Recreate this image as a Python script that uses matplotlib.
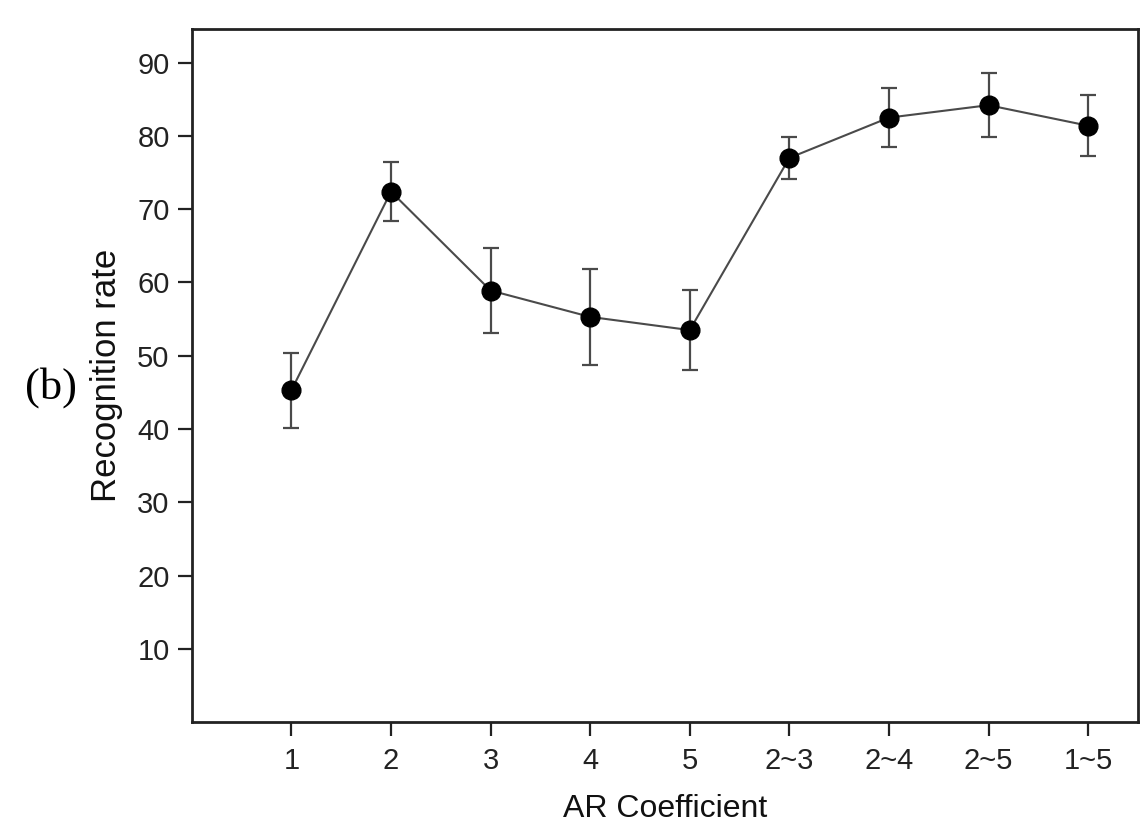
import numpy as np
import matplotlib.pyplot as plt

categories = ['1', '2', '3', '4', '5', '2~3', '2~4', '2~5', '1~5']
rate = [45.3, 72.4, 58.9, 55.3, 53.5, 77.0, 82.5, 84.2, 81.4]
err = [5.1, 4.0, 5.85, 6.55, 5.45, 2.9, 4.05, 4.35, 4.2]

plt.rcParams['font.family'] = ['Liberation Sans', 'DejaVu Sans']

fig = plt.figure(figsize=(11.42, 8.38), dpi=100)
ax = fig.add_axes([0.168, 0.1384, 0.8284, 0.827])

x = np.arange(len(categories))
ax.errorbar(x, rate, yerr=err, fmt='-o', color='#4a4a4a', lw=1.5,
            ecolor='#4a4a4a', elinewidth=1.6, capsize=6, capthick=1.6,
            markerfacecolor='black', markeredgecolor='black', markersize=13.5)

ax.set_xlim(-1.0, 8.5)
ax.set_ylim(0, 94.6)
ax.set_xticks(x)
ax.set_xticklabels(categories)
ax.set_yticks(np.arange(10, 91, 10))
ax.tick_params(direction='out', length=10, width=1.6, labelsize=21, colors='#222222')
ax.tick_params(axis='y', pad=6)
ax.tick_params(axis='x', pad=8)
for s in ax.spines.values():
    s.set_linewidth(2.0)
    s.set_color('#222222')

ax.set_xlabel('AR Coefficient', fontsize=23, labelpad=14, color='#111111')
ax.set_ylabel('Recognition rate', fontsize=25, labelpad=10, color='#111111')
fig.text(0.045, 0.538, '(b)', fontsize=32, family='Liberation Serif',
         ha='center', va='center')

fig.savefig('out.png', dpi=100)
